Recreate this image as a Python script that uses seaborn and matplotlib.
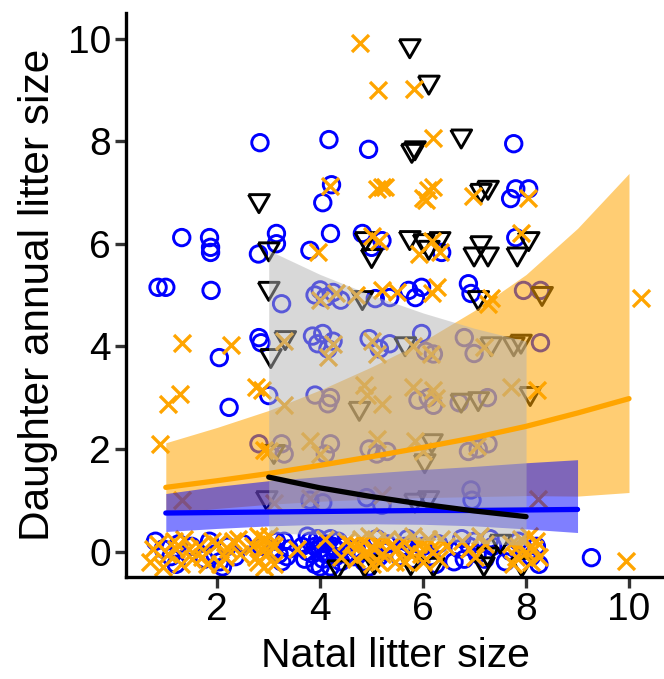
import numpy as np
import pandas as pd
import matplotlib
matplotlib.use("Agg")
import matplotlib.pyplot as plt
import seaborn as sns

# ---- raw points (natal litter size, daughter annual litter size) ----
blue_x = [2.83, 4.17, 4.94, 7.76, 4.05, 4.22, 7.80, 7.70, 8.05,
          1.31, 1.85, 1.87, 1.87, 3.15, 3.15, 2.80, 3.80, 4.20, 4.82, 5.00, 5.20, 6.36, 7.80,
          0.85, 1.00, 1.88, 3.25, 3.90, 4.00, 4.10, 4.25, 4.40, 5.07, 5.35, 5.72, 5.97, 5.85,
          6.88, 6.93, 7.95, 8.28,
          2.04, 2.81, 2.85, 3.85, 3.95, 4.05, 4.15, 4.25, 4.95, 5.15, 5.35, 5.97, 6.05, 6.20,
          6.80, 6.99, 8.28,
          2.23, 3.00, 3.90, 4.20, 4.15, 5.90, 6.10, 6.20, 6.70, 7.25,
          2.81, 3.25, 3.30, 4.20, 4.10, 4.95, 5.10, 5.30, 6.88, 7.07, 7.26,
          3.80, 4.05, 4.90, 5.20, 6.93, 6.95,
          0.95, 1.10, 1.25, 1.75, 1.95, 2.05, 2.20, 2.35, 2.85, 3.15, 3.20, 3.25, 3.40,
          3.65, 3.70, 3.80, 3.85, 3.90, 4.00, 4.05, 4.10, 4.15, 4.20, 4.25, 4.30, 4.35, 3.95, 4.40,
          4.70, 4.85, 5.00, 5.15, 5.30, 5.65, 5.80, 5.90, 6.15, 6.30,
          6.70, 6.80, 6.90, 7.05, 7.35, 7.70, 7.85, 8.10, 8.20, 9.27,
          0.80, 1.20, 1.50, 1.85, 2.10, 2.50, 3.10, 3.30, 3.35, 3.75, 3.75, 3.90,
          4.00, 4.10, 4.20, 4.30, 4.45, 4.50, 4.65, 4.95, 5.10, 5.25, 5.55, 5.70,
          6.00, 6.25, 6.60, 6.75, 7.00, 7.20, 7.30, 7.60, 7.95, 8.25]
blue_y = [7.97, 8.03, 7.84, 7.95, 6.80, 7.15, 7.07, 6.88, 7.07,
          6.12, 6.12, 5.93, 5.83, 6.20, 6.00, 5.80, 5.87, 6.20, 6.20, 5.93, 6.06, 5.83, 6.12,
          5.15, 5.15, 5.09, 4.83, 5.00, 5.10, 4.95, 5.05, 4.90, 4.93, 4.95, 5.09, 5.15, 4.95,
          5.22, 5.03, 5.09, 5.09,
          3.78, 4.17, 4.07, 4.20, 4.05, 4.25, 3.95, 4.10, 4.15, 3.95, 4.05, 4.25, 3.90, 3.85,
          4.17, 3.86, 4.07,
          2.81, 3.04, 3.05, 3.00, 2.88, 2.95, 3.00, 2.85, 2.90, 3.00,
          2.10, 2.10, 1.90, 2.10, 1.90, 2.00, 1.90, 1.95, 1.95, 2.00, 2.10,
          1.00, 0.95, 1.05, 0.90, 1.20, 1.00,
          0.05, -0.10, 0.15, -0.15, -0.05, -0.20, 0.10, -0.10, 0.10, 0.20, -0.05, -0.20, 0.05,
          0.10, -0.15, 0.20, -0.05, -0.25, 0.05, -0.15, 0.15, -0.05, -0.30, 0.10, -0.10, 0.20, 0.25, -0.20,
          0.05, -0.20, 0.10, -0.10, 0.15, 0.10, -0.15, 0.05, -0.10, 0.15,
          0.05, -0.15, 0.10, -0.05, 0.10, 0.00, 0.20, -0.10, 0.10, -0.12,
          0.20, -0.25, 0.10, 0.20, -0.30, 0.15, 0.05, 0.20, -0.10, 0.30, 0.00, 0.10,
          -0.30, -0.05, 0.25, 0.05, 0.10, -0.05, -0.10, -0.30, 0.25, 0.00, -0.10, 0.25,
          0.10, -0.25, -0.20, 0.25, 0.20, -0.15, 0.25, -0.20, 0.05, -0.25]

orange_x = [4.78, 5.13, 5.82, 6.20, 4.20, 5.10, 5.20, 5.26, 6.00, 6.10, 6.20, 6.05, 6.97, 8.03,
            3.96, 5.00, 5.15, 5.92, 6.17, 6.32, 7.90,
            4.00, 4.30, 4.70, 5.20, 5.50, 6.26, 6.17, 7.32, 7.26, 10.23,
            1.31, 2.27, 3.29, 4.25, 4.15, 5.00, 5.10, 5.80, 6.15, 7.18,
            1.27, 1.04, 2.86, 2.75, 3.29, 4.85, 4.90, 5.20, 5.80, 6.20, 6.25, 7.70, 8.22,
            0.89, 3.00, 3.80, 4.00, 5.10, 5.84, 6.00, 7.05, 2.90,
            1.31, 8.24, 3.10, 3.80, 5.20,
            0.70, 0.85, 1.05, 1.15, 1.30, 1.45, 1.50,
            1.65, 1.80, 2.00, 2.15, 2.30, 2.45,
            2.70, 2.80, 2.90, 2.95, 3.05, 3.10, 3.00, 2.85,
            3.55, 4.50, 4.10, 4.40,
            4.60, 4.70, 4.80, 4.90, 5.00, 5.10, 5.20, 5.35, 5.45,
            5.60, 5.75, 5.90, 6.00, 6.10, 6.20, 6.45,
            6.75, 6.90, 7.20,
            7.70, 7.80, 7.90, 8.00, 8.10, 8.20, 9.95,
            0.75, 0.95, 1.20, 1.35, 1.70, 1.90, 2.05, 2.20, 2.40, 2.75, 2.90, 3.00,
            3.10, 2.80, 4.75, 4.85, 4.95, 5.05, 5.15, 5.30, 5.50, 5.65, 5.80, 5.95,
            6.05, 6.30, 6.35, 7.00, 7.10, 7.75, 7.85, 8.05, 8.15, 8.25]
orange_y = [9.92, 9.00, 9.02, 8.07, 7.13, 7.07, 7.10, 7.10, 6.90, 7.05, 7.10, 6.85, 6.94, 6.90,
            5.83, 6.15, 6.06, 5.80, 6.06, 5.83, 6.20,
            4.90, 5.03, 5.00, 5.09, 5.05, 5.15, 5.03, 4.95, 4.83, 4.95,
            4.07, 4.02, 4.10, 4.05, 3.80, 4.10, 3.85, 4.00, 3.86, 3.98,
            3.08, 2.88, 3.14, 3.20, 2.85, 3.25, 3.05, 2.88, 3.20, 3.15, 3.00, 3.20, 3.14,
            2.10, 1.95, 2.16, 1.90, 2.20, 2.16, 1.95, 2.05, 1.98,
            1.00, 1.03, 0.95, 1.05, 1.10,
            -0.20, 0.15, -0.05, 0.20, -0.25, 0.05, -0.15,
            0.10, -0.25, 0.15, -0.10, 0.20, -0.05,
            0.10, -0.20, 0.25, -0.05, 0.15, -0.25, 0.00, 0.05,
            0.05, 0.20, 0.25, -0.10,
            0.15, -0.15, 0.25, 0.00, -0.25, 0.20, -0.05, 0.10, -0.20,
            0.20, -0.05, 0.15, -0.20, 0.25, 0.00, 0.10,
            0.20, 0.05, 0.15,
            0.15, -0.10, 0.25, 0.00, -0.20, 0.20, -0.18,
            0.05, -0.30, 0.05, 0.25, -0.10, 0.20, -0.25, 0.05, 0.25, -0.10, -0.30, 0.30,
            0.10, 0.30, 0.10, -0.05, 0.30, 0.05, -0.20, 0.25, 0.05, -0.20, 0.30, -0.05,
            0.10, -0.15, 0.25, -0.10, 0.30, -0.25, 0.10, 0.30, 0.05, -0.10]

black_x = [5.74, 6.11, 6.74, 5.78, 5.84, 2.81, 7.12, 7.26,
           3.00, 4.88, 5.00, 5.74, 6.01, 6.11, 6.32, 7.12, 6.99, 7.26, 8.05, 7.83,
           3.00, 4.82, 7.07, 8.31,
           3.04, 3.32, 5.65, 7.32, 7.76, 7.90,
           4.76, 6.74, 7.07, 8.08,
           3.10, 6.17, 6.03,
           2.96, 5.84, 6.10,
           4.34, 4.86, 5.76, 6.20, 7.18, 7.92, 7.50, 5.05, 7.25]
black_y = [9.86, 9.15, 8.10, 7.82, 7.87, 6.84, 7.04, 7.10,
           5.90, 6.10, 5.77, 6.12, 6.06, 5.93, 6.10, 6.02, 5.80, 5.80, 6.10, 5.80,
           5.13, 4.95, 4.95, 5.03,
           3.82, 4.17, 4.05, 4.05, 4.05, 4.10,
           2.79, 2.95, 2.98, 3.08,
           1.95, 2.16, 1.77,
           1.05, 1.00, 1.05,
           -0.30, -0.25, -0.22, -0.25, -0.24, -0.25, 0.20, -0.20, -0.05]

# ---- fitted curves and confidence bands ----
orange_fit_x = [1, 2, 3, 4, 5, 6, 7, 8, 9, 10]
orange_fit = [1.25, 1.38, 1.52, 1.68, 1.85, 2.03, 2.22, 2.44, 2.70, 2.98]
orange_lo = [0.74, 0.84, 0.92, 0.98, 1.02, 1.05, 1.07, 1.09, 1.08, 1.15]
orange_hi = [2.12, 2.42, 2.75, 3.15, 3.60, 4.10, 4.70, 5.40, 6.30, 7.37]

blue_fit_x = [1, 2, 3, 4, 5, 6, 7, 8, 9]
blue_fit = [0.75, 0.76, 0.77, 0.78, 0.79, 0.80, 0.80, 0.81, 0.82]
blue_lo = [0.39, 0.45, 0.50, 0.53, 0.54, 0.53, 0.50, 0.44, 0.37]
blue_hi = [1.13, 1.27, 1.38, 1.46, 1.53, 1.60, 1.66, 1.73, 1.79]

black_fit_x = [3, 4, 5, 6, 7, 8]
black_fit = [1.45, 1.24, 1.07, 0.92, 0.79, 0.68]
black_lo = [0.36, 0.33, 0.28, 0.22, 0.16, 0.12]
black_hi = [5.87, 5.40, 5.00, 4.65, 4.35, 4.10]

x_ticks = [2, 4, 6, 8, 10]
y_ticks = [0, 2, 4, 6, 8, 10]

sns.set_style("ticks")
plt.rcParams["font.family"] = ["Liberation Sans", "DejaVu Sans"]
plt.rcParams["text.color"] = "black"
plt.rcParams["axes.labelcolor"] = "black"

fig = plt.figure(figsize=(6.64, 6.79), dpi=100)
ax = fig.add_axes([0.190, 0.150, 0.810, 0.831])

# down-pointing equilateral triangle
tri = [(-1.0, 0.577), (1.0, 0.577), (0.0, -1.155), (-1.0, 0.577)]

sns.scatterplot(x=blue_x, y=blue_y, ax=ax, marker="o", s=140, color="blue",
                facecolor="none", edgecolor="blue", linewidth=2.1, zorder=2)
sns.scatterplot(x=black_x, y=black_y, ax=ax, marker=tri, s=300, color="black",
                facecolor="none", edgecolor="black", linewidth=2.1, zorder=2)
sns.scatterplot(x=orange_x, y=orange_y, ax=ax, marker="x", s=150, color="orange",
                linewidth=2.4, zorder=2)

# ribbons on top of the points
ax.fill_between(orange_fit_x, orange_lo, orange_hi, color="orange", alpha=0.55, lw=0, zorder=3)
ax.fill_between(blue_fit_x, blue_lo, blue_hi, color="blue", alpha=0.5, lw=0, zorder=3)
ax.fill_between(black_fit_x, black_lo, black_hi, color="#b3b3b3", alpha=0.5, lw=0, zorder=3)

sns.lineplot(x=orange_fit_x, y=orange_fit, ax=ax, color="orange", lw=3.8, zorder=4)
sns.lineplot(x=blue_fit_x, y=blue_fit, ax=ax, color="blue", lw=3.8, zorder=4)
sns.lineplot(x=black_fit_x, y=black_fit, ax=ax, color="black", lw=3.8, zorder=4)

ax.set_xlim(0.23, 10.68)
ax.set_ylim(-0.5, 10.5)
ax.set_xticks(x_ticks)
ax.set_yticks(y_ticks)
ax.set_xlabel("Natal litter size", fontsize=29.5, labelpad=6)
ax.set_ylabel("Daughter annual litter size", fontsize=30.5, labelpad=7)
ax.tick_params(axis="both", labelsize=28, length=8, width=2.4, color="#333333",
               labelcolor="black", pad=3)
for side in ["top", "right"]:
    ax.spines[side].set_visible(False)
for side in ["left", "bottom"]:
    ax.spines[side].set_linewidth(2.4)
    ax.spines[side].set_color("black")

fig.savefig("out.png", dpi=100)
